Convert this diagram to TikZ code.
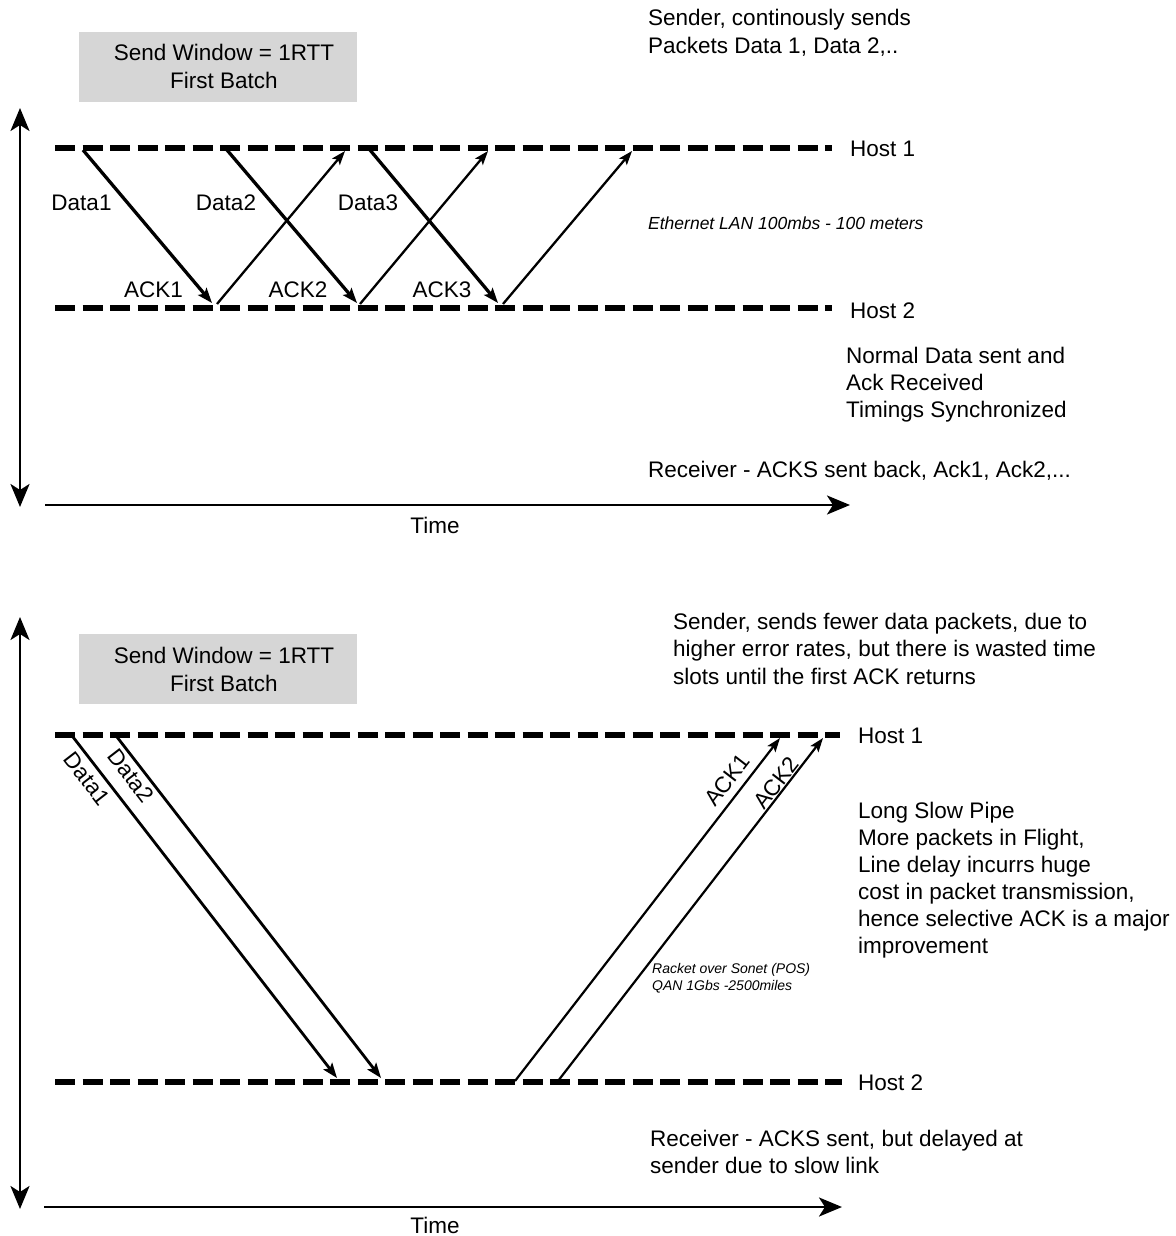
\documentclass[tikz,border=0pt]{standalone}
\usepackage{fontspec}
\setmainfont{Liberation Sans}
\usetikzlibrary{arrows.meta}
\definecolor{boxgray}{RGB}{214,214,214}
\begin{document}
\begin{tikzpicture}[x=1pt,y=-1pt,
  txt/.style={anchor=base west, inner sep=0pt, font=\fontsize{22.5}{27}\selectfont},
  ctxt/.style={anchor=base, inner sep=0pt, font=\fontsize{22.5}{27}\selectfont},
  rtxt/.style={anchor=center, inner sep=0pt, font=\fontsize{22.5}{27}\selectfont},
  itxt/.style={anchor=base west, inner sep=0pt, font=\fontsize{17.5}{21}\selectfont\itshape},
  stxt/.style={anchor=base west, inner sep=0pt, font=\fontsize{14}{17}\selectfont\itshape},
  hostline/.style={line width=6.5pt, dash pattern=on 20pt off 7.5pt},
  bothaxis/.style={line width=2.7pt, {Stealth[length=23pt,width=19pt,inset=6pt]}-{Stealth[length=23pt,width=19pt,inset=6pt]}},
  timeaxis/.style={line width=2.7pt, -{Stealth[length=23pt,width=19pt,inset=6pt]}},
  datarrow/.style={line width=3.3pt, -{Stealth[length=15pt,width=11pt,inset=3pt]}},
  ackarrow/.style={line width=2.3pt, -{Stealth[length=14pt,width=10pt,inset=3pt]}},
  ldatarrow/.style={line width=2.8pt, -{Stealth[length=15pt,width=11pt,inset=3pt]}},
  lackarrow/.style={line width=2.2pt, -{Stealth[length=14pt,width=10pt,inset=3pt]}},
  graybox/.style={fill=boxgray, draw=none},
]
\useasboundingbox (0,0) rectangle (1175,1236);

% ================= upper part =================
\node[graybox, minimum width=278pt, minimum height=70pt, inner sep=0pt, anchor=north west] (box1) at (79,32) {};
\node[ctxt] (box1a) at (224,61) {Send Window = 1RTT};
\node[ctxt] (box1b) at (224,89) {First Batch};

\node[txt] (snd1) at (648,26) {Sender, continously sends};
\node[txt] (snd2) at (648,53.5) {Packets Data 1, Data 2,..};

\coordinate (uy1) at (20,108);
\coordinate (uy2) at (20,507);
\draw[bothaxis] (uy1) -- (uy2);
\coordinate (ut1) at (45,505);
\coordinate (ut2) at (850,505);
\draw[timeaxis] (ut1) -- (ut2);
\node[ctxt] (utime) at (435,533) {Time};

\coordinate (uh1a) at (55,148);
\coordinate (uh1b) at (832,148);
\coordinate (uh2a) at (55,308);
\coordinate (uh2b) at (832,308);
\draw[hostline] (uh1a) -- (uh1b);
\draw[hostline] (uh2a) -- (uh2b);
\node[txt] (uhost1) at (850,156) {Host 1};
\node[txt] (uhost2) at (850,318) {Host 2};

\node[itxt] (eth) at (648,229.3) {Ethernet LAN 100mbs - 100 meters};

\node[txt] (norm1) at (846,363) {Normal Data sent and};
\node[txt] (norm2) at (846,390) {Ack Received};
\node[txt] (norm3) at (846,417) {Timings Synchronized};
\node[txt] (urecv) at (648,477) {Receiver - ACKS sent back, Ack1, Ack2,...};

% data arrows
\coordinate (ud1s) at (83,150);  \coordinate (ud1e) at (212,303);
\coordinate (ud2s) at (227,150); \coordinate (ud2e) at (357,303);
\coordinate (ud3s) at (370,150); \coordinate (ud3e) at (498,303);
\draw[datarrow] (ud1s) -- (ud1e);
\draw[datarrow] (ud2s) -- (ud2e);
\draw[datarrow] (ud3s) -- (ud3e);
% ack arrows
\coordinate (ua1s) at (217,304); \coordinate (ua1e) at (345,151);
\coordinate (ua2s) at (360,304); \coordinate (ua2e) at (488,151);
\coordinate (ua3s) at (503,304); \coordinate (ua3e) at (632,151);
\draw[ackarrow] (ua1s) -- (ua1e);
\draw[ackarrow] (ua2s) -- (ua2e);
\draw[ackarrow] (ua3s) -- (ua3e);

\node[ctxt] (ulD1) at (81.5,210) {Data1};
\node[ctxt] (ulD2) at (226,210) {Data2};
\node[ctxt] (ulD3) at (368,210) {Data3};
\node[ctxt] (ulA1) at (153.5,297) {ACK1};
\node[ctxt] (ulA2) at (298,297) {ACK2};
\node[ctxt] (ulA3) at (442,297) {ACK3};

% ================= lower part =================
\node[graybox, minimum width=278pt, minimum height=70pt, inner sep=0pt, anchor=north west] (box2) at (79,634) {};
\node[ctxt] (box2a) at (224,663) {Send Window = 1RTT};
\node[ctxt] (box2b) at (224,691) {First Batch};

\node[txt] (lsnd1) at (673,629) {Sender, sends fewer data packets, due to};
\node[txt] (lsnd2) at (673,656.5) {higher error rates, but there is wasted time};
\node[txt] (lsnd3) at (673,684) {slots until the first ACK returns};

\coordinate (ly1) at (20,617);
\coordinate (ly2) at (20,1209);
\draw[bothaxis] (ly1) -- (ly2);
\coordinate (lt1) at (44,1207);
\coordinate (lt2) at (842,1207);
\draw[timeaxis] (lt1) -- (lt2);
\node[ctxt] (ltime) at (435,1233) {Time};

\coordinate (lh1a) at (55,735);
\coordinate (lh1b) at (840,735);
\coordinate (lh2a) at (55,1082);
\coordinate (lh2b) at (842,1082);
\draw[hostline] (lh1a) -- (lh1b);
\draw[hostline] (lh2a) -- (lh2b);
\node[txt] (lhost1) at (858,743) {Host 1};
\node[txt] (lhost2) at (858,1090) {Host 2};

\node[txt] (pipe1) at (858,818) {Long Slow Pipe};
\node[txt] (pipe2) at (858,845) {More packets in Flight,};
\node[txt] (pipe3) at (858,872) {Line delay incurrs huge};
\node[txt] (pipe4) at (858,899) {cost in packet transmission,};
\node[txt] (pipe5) at (858,926) {hence selective ACK is a major};
\node[txt] (pipe6) at (858,953) {improvement};

\node[stxt] (pos1) at (652,973) {Racket over Sonet (POS)};
\node[stxt] (pos2) at (652,990) {QAN 1Gbs -2500miles};

\node[txt] (lrecv1) at (650,1146) {Receiver - ACKS sent, but delayed at};
\node[txt] (lrecv2) at (650,1173) {sender due to slow link};

\coordinate (ld1s) at (73,737);  \coordinate (ld1e) at (337,1078);
\coordinate (ld2s) at (117,737); \coordinate (ld2e) at (381,1078);
\draw[ldatarrow] (ld1s) -- (ld1e);
\draw[ldatarrow] (ld2s) -- (ld2e);
\coordinate (la1s) at (515,1081); \coordinate (la1e) at (780,738);
\coordinate (la2s) at (558,1081); \coordinate (la2e) at (823,738);
\draw[lackarrow] (la1s) -- (la1e);
\draw[lackarrow] (la2s) -- (la2e);

\node[rtxt, rotate=-52.3] (llD1) at (87,779) {Data1};
\node[rtxt, rotate=-52.3] (llD2) at (131,776) {Data2};
\node[rtxt, rotate=52.3] (llA1) at (727,780) {ACK1};
\node[rtxt, rotate=52.3] (llA2) at (776,783) {ACK2};
\end{tikzpicture}
\end{document}
